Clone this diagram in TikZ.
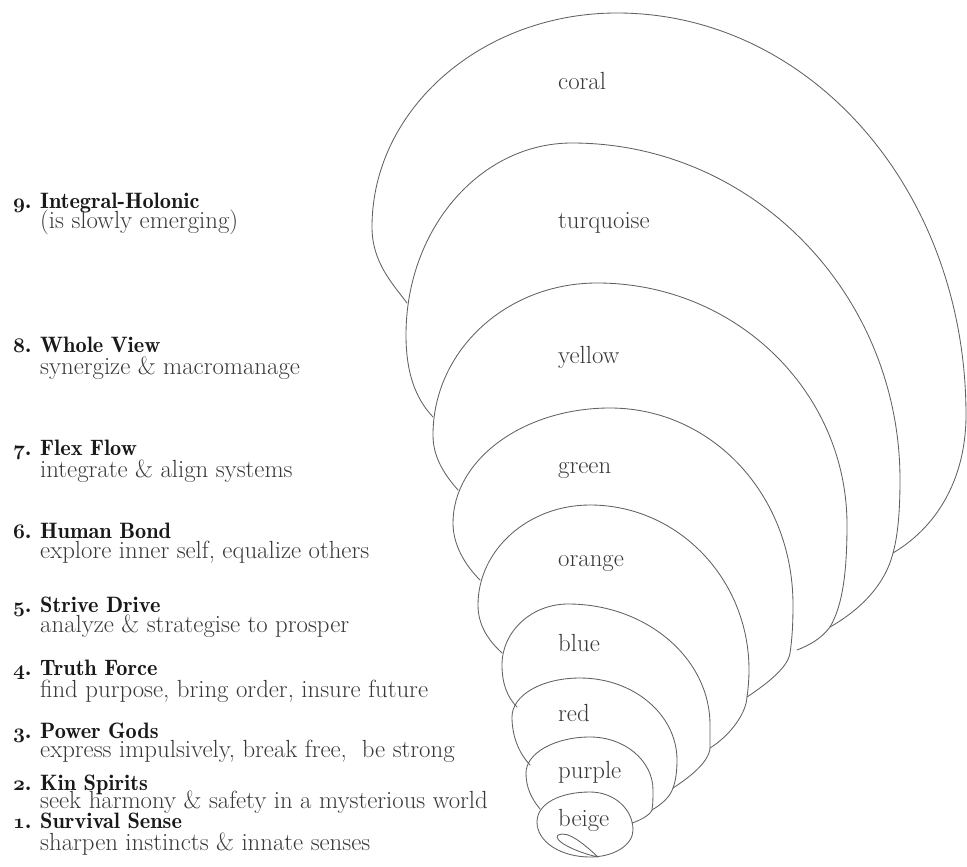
\documentclass[tikz,border=0pt]{standalone}
\newcommand{\osn}[1]{{\usefont{OML}{cmm}{b}{it}#1}}
\begin{document}
\begin{tikzpicture}[x=1pt,y=-1pt,
  spir/.style={draw=black!62, line width=0.85pt, line join=round, line cap=round},
  lab/.style={anchor=base west, inner sep=0pt, text=black!78, font=\fontsize{24.8}{20}\selectfont},
  ttl/.style={anchor=base west, inner sep=0pt, text=black!90, font=\fontsize{22.3}{20}\selectfont\fontseries{b}\selectfont},
  num/.style={anchor=base west, inner sep=0pt, text=black!90, font=\fontsize{22.3}{20}\selectfont\fontseries{b}\selectfont},
  col/.style={anchor=base west, inner sep=0pt, text=black!78, font=\fontsize{24.8}{20}\selectfont}]
\useasboundingbox (0,0) rectangle (967,867);

% ---------- spiral loops ----------
% coral
\draw[spir] (407,303) .. controls (392,283) and (372,262) .. (372,227)
  .. controls (372,109) and (482,13) .. (617,13)
  .. controls (810,13) and (966,190) .. (966,415)
  .. controls (966,475) and (940,525) .. (893,553);
% turquoise
\draw[spir] (433,417) .. controls (415,398) and (406,372) .. (406,335)
  .. controls (406,229) and (480,143) .. (572,143)
  .. controls (753,143) and (900,294) .. (900,480)
  .. controls (900,510) and (898,535) .. (893,553)
  .. controls (885,585) and (860,610) .. (830,627);
% yellow
\draw[spir] (458,490) .. controls (442,472) and (433,455) .. (433,435)
  .. controls (433,351) and (506,283) .. (597,283)
  .. controls (735,283) and (847,391) .. (847,525)
  .. controls (847,570) and (843,605) .. (830,627)
  .. controls (822,638) and (810,645) .. (797,650);
% green
\draw[spir] (480,580) .. controls (465,565) and (453,545) .. (453,523)
  .. controls (453,460) and (523,408) .. (610,408)
  .. controls (711,408) and (793,494) .. (793,605)
  .. controls (793,625) and (792,640) .. (790,653)
  .. controls (788,668) and (765,685) .. (747,697);
% orange
\draw[spir] (502,653) .. controls (488,640) and (478,625) .. (478,605)
  .. controls (478,550) and (528,505) .. (590,505)
  .. controls (678,505) and (749,579) .. (749,670)
  .. controls (749,680) and (748,690) .. (747,697)
  .. controls (746,715) and (728,737) .. (710,748);
% blue
\draw[spir] (517,707) .. controls (507,697) and (502,683) .. (502,665)
  .. controls (502,631) and (532,604) .. (568,604)
  .. controls (646,604) and (710,658) .. (710,725)
  .. controls (710,733) and (710,741) .. (710,748)
  .. controls (709,762) and (690,777) .. (673,788);
% red
\draw[spir] (530,765) .. controls (518,752) and (512,735) .. (512,717)
  .. controls (512,695) and (542,678) .. (580,678)
  .. controls (634,678) and (677,715) .. (677,760)
  .. controls (677,770) and (676,780) .. (673,788)
  .. controls (670,797) and (662,804) .. (652,810);
% purple
\draw[spir] (540,809) .. controls (531,798) and (526,787) .. (526,773)
  .. controls (526,753) and (555,737) .. (590,737)
  .. controls (625,737) and (653,761) .. (653,790)
  .. controls (653,797) and (653,804) .. (652,810)
  .. controls (650,815) and (641,820) .. (632,823);
% beige
\draw[spir] (590,792) .. controls (614,792) and (633,809) .. (633,830)
  .. controls (633,845) and (614,857) .. (590,857)
  .. controls (561,857) and (537,842) .. (537,822)
  .. controls (537,803) and (561,792) .. (590,792) -- cycle;
% inner teardrop
\draw[spir] (598,857) .. controls (585,845) and (568,830) .. (558,835)
  .. controls (552,840) and (575,852) .. (598,857);

% ---------- loop labels ----------
\node[col] (coral) at (558,89) {coral};
\node[col] (turq) at (558,228) {turquoise};
\node[col] (yell) at (558,363) {yellow};
\node[col] (gree) at (558,473) {green};
\node[col] (oran) at (558,566) {orange};
\node[col] (blue) at (558,651) {blue};
\node[col] (red) at (558,721) {red};
\node[col] (purp) at (558,778) {purple};
\node[col] (beig) at (558,826) {beige};

% ---------- level list ----------
\node[num] (n9) at (13,208) {\osn{9}.};
\node[ttl] (t9) at (40,208) {Integral-Holonic};
\node[lab] (d9) at (40,228) {(is slowly emerging)};

\node[num] (n8) at (13,352) {\osn{8}.};
\node[ttl] (t8) at (40,352) {Whole View};
\node[lab] (d8) at (40,374) {synergize \& macromanage};

\node[num] (n7) at (13,455) {\osn{7}.};
\node[ttl] (t7) at (40,455) {Flex Flow};
\node[lab] (d7) at (40,477) {integrate \& align systems};

\node[num] (n6) at (13,538) {\osn{6}.};
\node[ttl] (t6) at (40,538) {Human Bond};
\node[lab] (d6) at (40,558) {explore inner self, equalize others};

\node[num] (n5) at (13,612) {\osn{5}.};
\node[ttl] (t5) at (40,612) {Strive Drive};
\node[lab] (d5) at (40,632) {analyze \& strategise to prosper};

\node[num] (n4) at (13,675) {\osn{4}.};
\node[ttl] (t4) at (40,675) {Truth Force};
\node[lab] (d4) at (40,697) {find purpose, bring order, insure future};

\node[num] (n3) at (13,738) {\osn{3}.};
\node[ttl] (t3) at (40,738) {Power Gods};
\node[lab] (d3) at (40,757) {express impulsively, break free,\ \ be strong};

\node[num] (n2) at (13,790) {\osn{2}.};
\node[ttl] (t2) at (40,790) {Kin Spirits};
\node[lab] (d2) at (40,808) {seek harmony \& safety in a mysterious world};

\node[num] (n1) at (13,828) {\osn{1}.};
\node[ttl] (t1) at (40,828) {Survival Sense};
\node[lab] (d1) at (40,850) {sharpen instincts \& innate senses};
\end{tikzpicture}
\end{document}
